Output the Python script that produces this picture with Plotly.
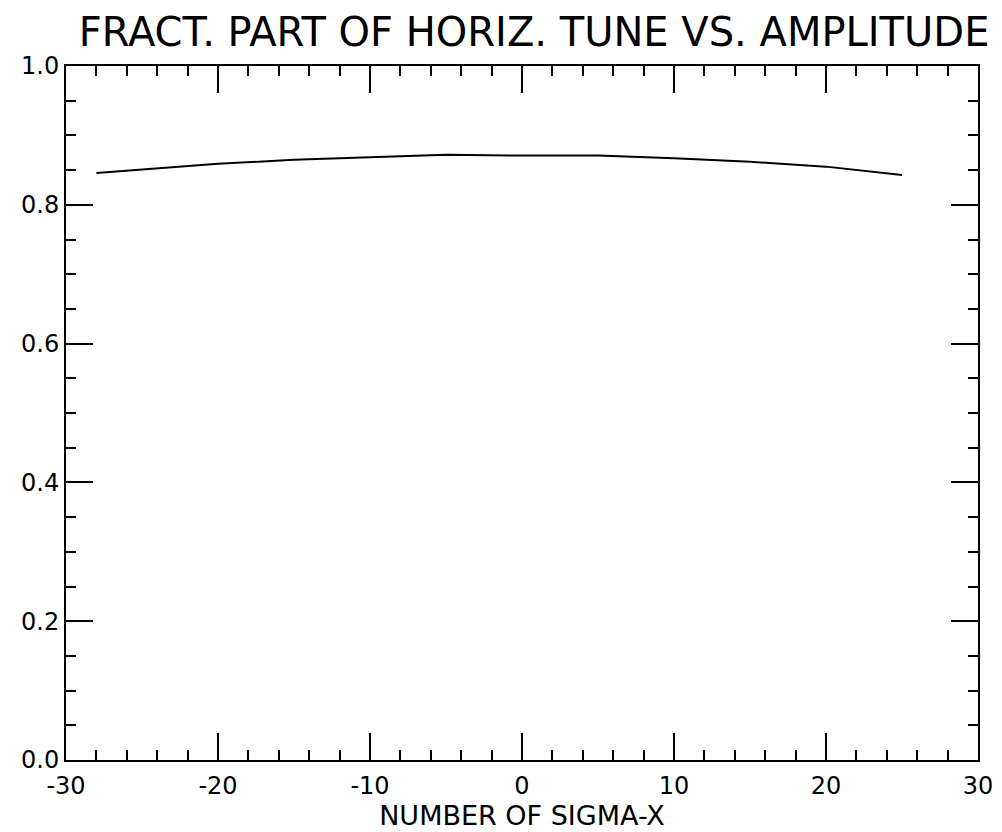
import plotly.graph_objects as go

# Data
sigma_x = [-28, -25, -20, -15, -10, -5, 0, 5, 10, 15, 20, 25]
tune_frac = [0.846, 0.851, 0.859, 0.865, 0.869, 0.872, 0.871, 0.871, 0.867, 0.862, 0.855, 0.843]

x_ticks = [-30, -20, -10, 0, 10, 20, 30]
y_ticks = [0.0, 0.2, 0.4, 0.6, 0.8, 1.0]

FONT = "DejaVu Sans"

fig = go.Figure()
fig.add_trace(go.Scatter(x=sigma_x, y=tune_frac, mode="lines",
                         line=dict(color="black", width=2), showlegend=False))

axis_common = dict(
    showgrid=False, zeroline=False, showline=True, linecolor="black", linewidth=2,
    mirror="allticks", ticks="inside", tickcolor="black", tickwidth=1.5,
    ticklen=27, tickfont=dict(family=FONT, size=24, color="black"),
    automargin=False,
)

fig.update_xaxes(
    range=[-30, 30], tickvals=x_ticks, ticktext=[str(v) for v in x_ticks],
    minor=dict(dtick=2, ticks="inside", ticklen=10, tickcolor="black", tickwidth=1.5),
    ticklabelstandoff=3,
    title=dict(text="NUMBER OF SIGMA-X", font=dict(family=FONT, size=27, color="black"), standoff=6),
    **axis_common,
)
fig.update_yaxes(
    range=[0, 1], tickvals=y_ticks, ticktext=[f"{v:.1f}" for v in y_ticks],
    minor=dict(dtick=0.05, ticks="inside", ticklen=10, tickcolor="black", tickwidth=1.5),
    **axis_common,
)

fig.update_layout(
    width=1002, height=832,
    margin=dict(l=66, r=24, t=66, b=72),
    paper_bgcolor="white", plot_bgcolor="white",
    title=dict(text="FRACT. PART OF HORIZ. TUNE VS. AMPLITUDE",
               font=dict(family=FONT, size=40, color="black"),
               x=0.533, xanchor="center", y=0.962, yanchor="middle", yref="container",
               automargin=False),
)

fig.write_html("out.html")
